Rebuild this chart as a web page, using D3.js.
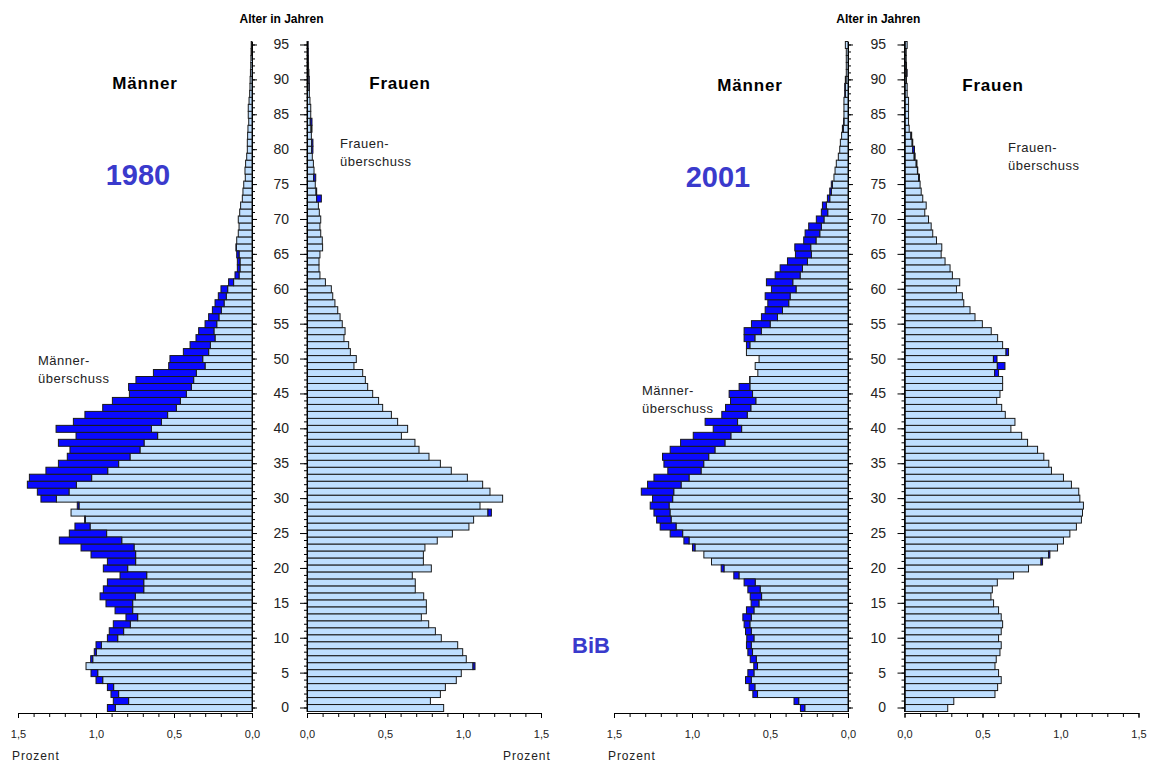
<!DOCTYPE html>
<html>
<head>
<meta charset="utf-8">
<script src="https://cdn.jsdelivr.net/npm/d3@7"></script>
<style>
  body { margin: 0; background: #fff; }
  text { font-family: "Liberation Sans", Arial, sans-serif; }
</style>
</head>
<body>
<svg id="chart" width="1151" height="762"></svg>
<script>
// Age groups (0 .. 95 years)
var ages = d3.range(0, 96);

// Tick labels
var valueTicks = [0, 0.5, 1.0, 1.5];
var ageLabels = [0, 5, 10, 15, 20, 25, 30, 35, 40, 45, 50, 55, 60, 65, 70, 75, 80, 85, 90, 95];

// Share of the population in percent, one value per age, 0 .. 95
var men1980 = [
  0.927, 0.889, 0.904, 0.927, 1.000, 1.032, 1.064, 1.034, 1.011, 1.000,
  0.927, 0.915, 0.889, 0.808, 0.878, 0.936, 0.974, 0.953, 0.927, 0.846,
  0.953, 0.927, 1.032, 1.096, 1.235, 1.171, 1.135, 1.073, 1.160, 1.120,
  1.353, 1.376, 1.440, 1.427, 1.321, 1.241, 1.184, 1.167, 1.241, 1.128,
  1.256, 1.145, 1.071, 0.957, 0.895, 0.786, 0.791, 0.744, 0.632, 0.534,
  0.526, 0.440, 0.397, 0.359, 0.342, 0.301, 0.278, 0.254, 0.237, 0.216,
  0.199, 0.150, 0.109, 0.094, 0.094, 0.098, 0.103, 0.098, 0.088, 0.083,
  0.088, 0.079, 0.073, 0.062, 0.058, 0.053, 0.043, 0.045, 0.041, 0.034,
  0.030, 0.030, 0.028, 0.026, 0.021, 0.024, 0.024, 0.019, 0.015, 0.013,
  0.012, 0.010, 0.008, 0.007, 0.006, 0.005
];
var women1980 = [
  0.876, 0.791, 0.855, 0.887, 0.957, 0.989, 1.077, 1.021, 0.998, 0.966,
  0.861, 0.823, 0.780, 0.733, 0.765, 0.765, 0.748, 0.694, 0.694, 0.675,
  0.797, 0.746, 0.746, 0.756, 0.835, 0.932, 1.038, 1.068, 1.182, 1.109,
  1.254, 1.173, 1.126, 1.028, 0.925, 0.855, 0.782, 0.718, 0.692, 0.605,
  0.645, 0.581, 0.541, 0.485, 0.459, 0.421, 0.389, 0.374, 0.357, 0.301,
  0.316, 0.278, 0.267, 0.237, 0.244, 0.226, 0.212, 0.197, 0.179, 0.165,
  0.156, 0.118, 0.083, 0.077, 0.077, 0.083, 0.100, 0.098, 0.088, 0.083,
  0.088, 0.079, 0.073, 0.092, 0.062, 0.053, 0.056, 0.045, 0.041, 0.034,
  0.038, 0.038, 0.028, 0.032, 0.032, 0.024, 0.024, 0.019, 0.015, 0.015,
  0.014, 0.012, 0.010, 0.009, 0.008, 0.007
];
var men2001 = [
  0.305, 0.346, 0.610, 0.634, 0.657, 0.642, 0.604, 0.627, 0.642, 0.651,
  0.649, 0.657, 0.666, 0.674, 0.651, 0.621, 0.627, 0.642, 0.666, 0.732,
  0.813, 0.875, 0.924, 0.997, 1.052, 1.140, 1.204, 1.227, 1.244, 1.268,
  1.253, 1.325, 1.285, 1.244, 1.155, 1.180, 1.189, 1.140, 1.073, 0.992,
  0.864, 0.916, 0.809, 0.785, 0.753, 0.762, 0.698, 0.630, 0.578, 0.595,
  0.570, 0.651, 0.651, 0.666, 0.666, 0.619, 0.555, 0.531, 0.514, 0.531,
  0.491, 0.523, 0.467, 0.435, 0.388, 0.337, 0.341, 0.284, 0.275, 0.252,
  0.203, 0.171, 0.164, 0.132, 0.117, 0.107, 0.090, 0.083, 0.075, 0.062,
  0.053, 0.049, 0.041, 0.036, 0.028, 0.026, 0.026, 0.026, 0.021, 0.021,
  0.017, 0.011, 0.011, 0.011, 0.011, 0.017
];
var women2001 = [
  0.277, 0.316, 0.580, 0.597, 0.620, 0.603, 0.580, 0.588, 0.612, 0.620,
  0.603, 0.620, 0.629, 0.620, 0.603, 0.571, 0.554, 0.563, 0.595, 0.699,
  0.795, 0.885, 0.932, 0.981, 1.019, 1.060, 1.102, 1.134, 1.141, 1.147,
  1.124, 1.117, 1.070, 1.019, 0.942, 0.925, 0.893, 0.853, 0.789, 0.751,
  0.682, 0.708, 0.646, 0.623, 0.591, 0.612, 0.629, 0.629, 0.603, 0.644,
  0.593, 0.667, 0.629, 0.597, 0.556, 0.499, 0.452, 0.420, 0.380, 0.371,
  0.333, 0.354, 0.307, 0.292, 0.260, 0.235, 0.239, 0.205, 0.181, 0.171,
  0.154, 0.130, 0.139, 0.117, 0.107, 0.100, 0.096, 0.085, 0.080, 0.068,
  0.064, 0.053, 0.046, 0.030, 0.026, 0.026, 0.026, 0.026, 0.017, 0.017,
  0.013, 0.017, 0.013, 0.011, 0.011, 0.017
];

// Colours
var lightBlue = '#bfdfff';
var darkBlue = '#0a0aff';
var titleBlue = '#3a3acc';

var svg = d3.select('#chart');

// Number format with decimal comma
var fmt = d3.formatLocale({decimal: ',', thousands: '.', grouping: [3],
                           currency: ['', ' €']}).format('.1f');

// Shared vertical scale for ages
var y = d3.scaleBand()
    .domain(ages)
    .range([711.5, 41.5]);

// One pyramid
function drawPanel(p) {

  var xM = d3.scaleLinear().domain([0, 1.5]).range([p.mZero, p.mZero - 234]);
  var xF = d3.scaleLinear().domain([0, 1.5]).range([p.fZero, p.fZero + 234]);

  var rows = ages.map(function(a, i) {
    return {age: a, m: p.men[i], f: p.women[i], low: Math.min(p.men[i], p.women[i])};
  });

  var g = svg.append('g');

  // Common part (light)
  g.selectAll('rect.mlight').data(rows).enter().append('rect')
   .attr('x', function(d) { return xM(d.low); })
   .attr('y', function(d) { return y(d.age); })
   .attr('width', function(d) { return xM(0) - xM(d.low); })
   .attr('height', y.bandwidth())
   .attr('fill', lightBlue).attr('stroke', '#1a1a1a').attr('stroke-width', 1);

  g.selectAll('rect.flight').data(rows).enter().append('rect')
   .attr('x', xF(0))
   .attr('y', function(d) { return y(d.age); })
   .attr('width', function(d) { return xF(d.low) - xF(0); })
   .attr('height', y.bandwidth())
   .attr('fill', lightBlue).attr('stroke', '#1a1a1a').attr('stroke-width', 1);

  // Surplus (dark)
  g.selectAll('rect.mdark').data(rows.filter(function(d) { return d.m > d.f; }))
   .enter().append('rect')
   .attr('x', function(d) { return xM(d.m); })
   .attr('y', function(d) { return y(d.age); })
   .attr('width', function(d) { return xM(d.f) - xM(d.m); })
   .attr('height', y.bandwidth())
   .attr('fill', darkBlue).attr('stroke', '#1a1a1a').attr('stroke-width', 1);

  g.selectAll('rect.fdark').data(rows.filter(function(d) { return d.f > d.m; }))
   .enter().append('rect')
   .attr('x', function(d) { return xF(d.m); })
   .attr('y', function(d) { return y(d.age); })
   .attr('width', function(d) { return xF(d.f) - xF(d.m); })
   .attr('height', y.bandwidth())
   .attr('fill', darkBlue).attr('stroke', '#1a1a1a').attr('stroke-width', 1);

  // Age axes
  g.append('g').attr('class', 'ax')
   .attr('transform', 'translate(' + p.mZero + ',0)')
   .call(d3.axisRight(y).tickValues(ages).tickSize(3).tickSizeOuter(0).tickFormat(''));
  g.append('g').attr('class', 'ax')
   .attr('transform', 'translate(' + p.mZero + ',0)')
   .call(d3.axisRight(y).tickValues(ageLabels).tickSize(5).tickSizeOuter(0).tickFormat(''));
  g.append('g').attr('class', 'ax')
   .attr('transform', 'translate(' + p.fZero + ',0)')
   .call(d3.axisLeft(y).tickValues(ages).tickSize(3).tickSizeOuter(0).tickFormat(''));
  g.append('g').attr('class', 'ax agelab')
   .attr('transform', 'translate(' + p.fZero + ',0)')
   .call(d3.axisLeft(y).tickValues(ageLabels).tickSize(7).tickSizeOuter(0)
                        .tickPadding(p.fZero - p.labelEnd - 7));

  // Value axes at the bottom
  var minor = d3.range(0, 16).map(function(k) { return k / 10; });
  [xM, xF].forEach(function(x) {
    var ax = g.append('g').attr('class', 'ax').attr('transform', 'translate(0,713)');
    ax.call(d3.axisBottom(x).tickValues(minor).tickSize(4).tickSizeOuter(0).tickFormat(''));
    var ax2 = g.append('g').attr('class', 'ax vlab').attr('transform', 'translate(0,713)');
    ax2.call(d3.axisBottom(x).tickValues(valueTicks).tickSize(5).tickSizeOuter(0)
                             .tickPadding(12).tickFormat(fmt));
  });

  // Titles
  g.append('text').attr('x', (p.mZero + p.fZero) / 2 + 2).attr('y', 23)
   .attr('text-anchor', 'middle').attr('font-size', 12).attr('font-weight', 'bold')
   .text('Alter in Jahren');
  g.append('text').attr('x', p.menX).attr('y', p.sexY)
   .attr('text-anchor', 'middle').attr('font-size', 17).attr('font-weight', 'bold')
   .attr('letter-spacing', 0.8).text('Männer');
  g.append('text').attr('x', p.womenX).attr('y', p.sexY)
   .attr('text-anchor', 'middle').attr('font-size', 17).attr('font-weight', 'bold')
   .attr('letter-spacing', 0.8).text('Frauen');
  g.append('text').attr('x', p.yearX).attr('y', p.yearY)
   .attr('text-anchor', 'middle').attr('font-size', 29).attr('font-weight', 'bold')
   .attr('fill', titleBlue).text(p.year);

  // Surplus notes
  var mNote = g.append('text').attr('font-size', 13).attr('letter-spacing', 0.5)
               .attr('fill', '#222');
  mNote.append('tspan').attr('x', p.mNoteX).attr('y', p.mNoteY).text('Männer-');
  mNote.append('tspan').attr('x', p.mNoteX).attr('y', p.mNoteY + 18).text('überschuss');
  var fNote = g.append('text').attr('font-size', 13).attr('letter-spacing', 0.5)
               .attr('fill', '#222');
  fNote.append('tspan').attr('x', p.fNoteX).attr('y', p.fNoteY).text('Frauen-');
  fNote.append('tspan').attr('x', p.fNoteX).attr('y', p.fNoteY + 18).text('überschuss');
}

var panels = [
  {year: '1980', men: men1980, women: women1980, mZero: 252, fZero: 307, labelEnd: 289,
   menX: 145, womenX: 400, sexY: 89, yearX: 138, yearY: 185,
   mNoteX: 38, mNoteY: 365, fNoteX: 340, fNoteY: 148},
  {year: '2001', men: men2001, women: women2001, mZero: 848, fZero: 904.5, labelEnd: 886,
   menX: 750, womenX: 993, sexY: 91, yearX: 718, yearY: 187,
   mNoteX: 642, mNoteY: 395, fNoteX: 1008, fNoteY: 152}
];

panels.forEach(drawPanel);

// Axis styling
svg.selectAll('.ax path, .ax line').attr('stroke', '#000').attr('stroke-width', 1);
svg.selectAll('.agelab text').attr('font-size', 14).attr('fill', '#222')
   .attr('font-family', '"Liberation Sans", Arial, sans-serif');
svg.selectAll('.vlab text').attr('font-size', 11).attr('fill', '#222')
   .attr('font-family', '"Liberation Sans", Arial, sans-serif');

// Unit labels and source mark
[[12, 760], [503, 760], [608, 760]].forEach(function(pos) {
  svg.append('text').attr('x', pos[0]).attr('y', pos[1])
     .attr('font-size', 12).attr('letter-spacing', 0.9).attr('fill', '#222').text('Prozent');
});
svg.append('text').attr('x', 591).attr('y', 653).attr('text-anchor', 'middle')
   .attr('font-size', 22).attr('font-weight', 'bold').attr('fill', titleBlue).text('BiB');
</script>
</body>
</html>
